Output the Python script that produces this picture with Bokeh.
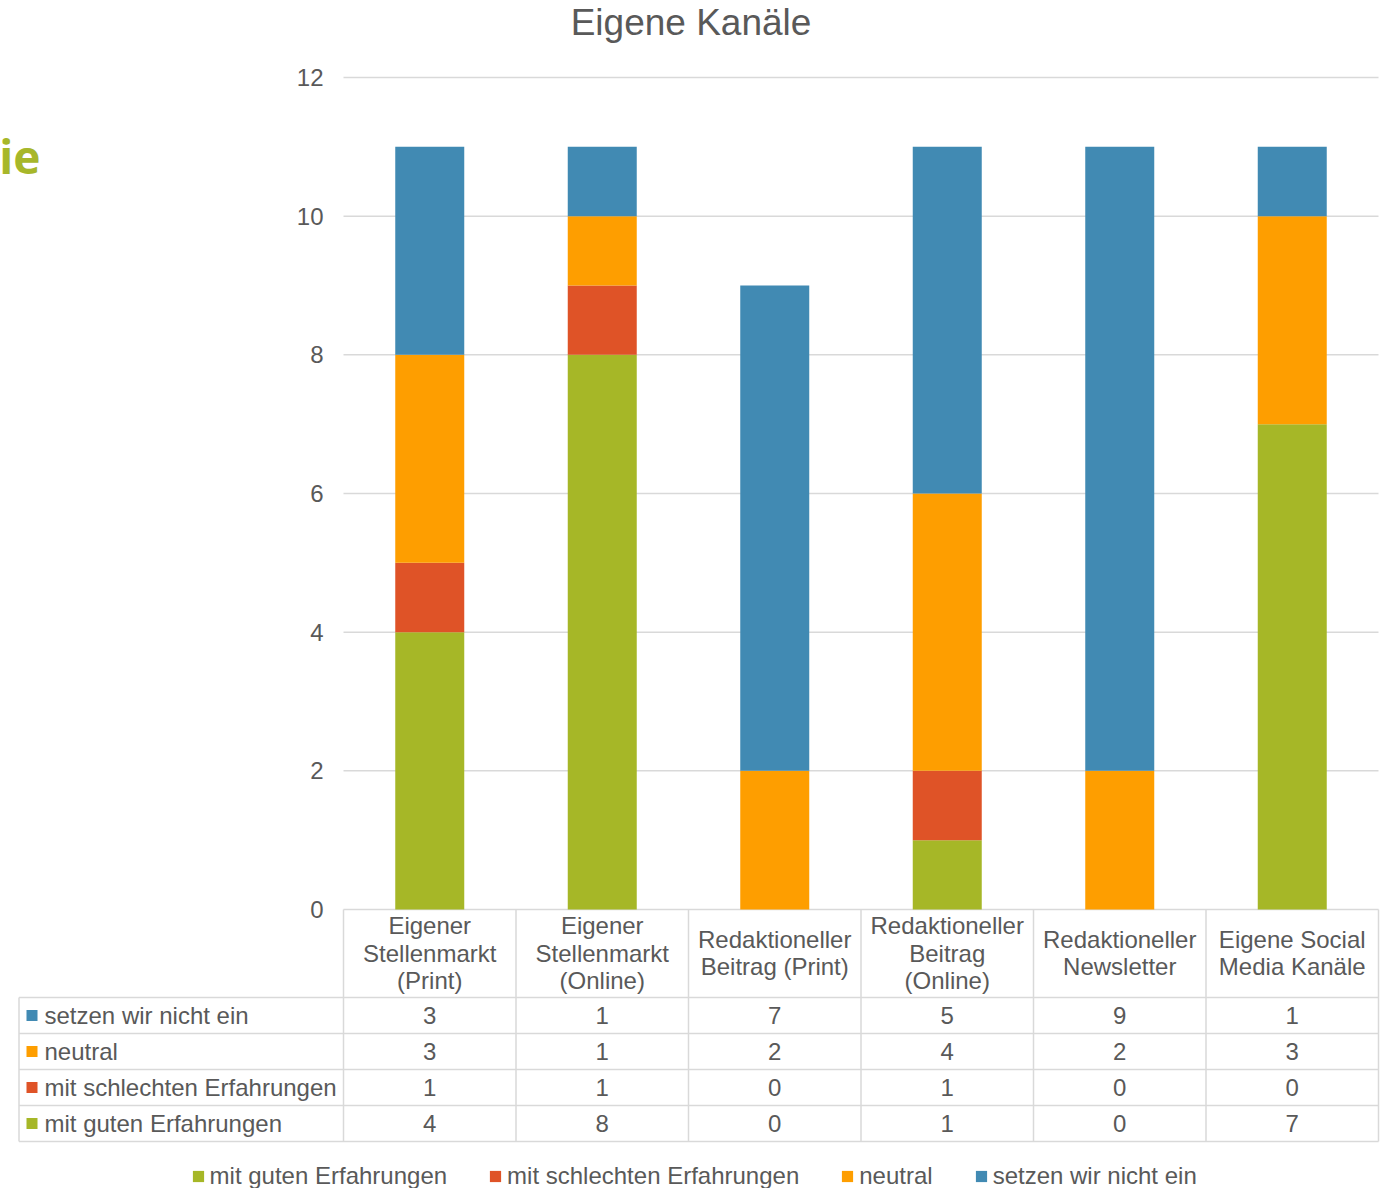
from bokeh.plotting import figure
from bokeh.models import ColumnDataSource, Range1d, Legend, LegendItem
from bokeh.core.properties import value
from bokeh.embed import file_html
from bokeh.resources import INLINE

# ---------------- data ----------------
categories = ["Eigener\nStellenmarkt\n(Print)", "Eigener\nStellenmarkt\n(Online)",
              "Redaktioneller\nBeitrag (Print)", "Redaktioneller\nBeitrag\n(Online)",
              "Redaktioneller\nNewsletter", "Eigene Social\nMedia Kanäle"]
gut = [4, 8, 0, 1, 0, 7]
schlecht = [1, 1, 0, 1, 0, 0]
neutral = [3, 1, 2, 4, 2, 3]
setzen = [3, 1, 7, 5, 9, 1]
series_names = ["mit guten Erfahrungen", "mit schlechten Erfahrungen", "neutral", "setzen wir nicht ein"]
series_colors = ["#A6B727", "#DF5327", "#FE9E00", "#418AB3"]
y_ticks = [0, 2, 4, 6, 8, 10, 12]
y_tick_labels = ["0", "2", "4", "6", "8", "10", "12"]
title_text = "Eigene Kanäle"

FONT = "Liberation Sans"
TXT = "#595959"
GRID = "#D9D9D9"

W, H = 1387, 1188
FL, FR, FT, FB = 343, 1378, 77, 909      # plot area in page pixels
n = len(categories)
CW = (FR - FL) / n                       # pixels per category
UNIT = (FB - FT) / y_ticks[-1]           # pixels per value unit


def px2x(px):
    return (px - FL) / CW


def py2y(py):
    return (FB - py) / UNIT


p = figure(width=W, height=H, x_range=Range1d(px2x(0), px2x(W)), y_range=Range1d(py2y(H), py2y(0)),
           output_backend="svg", toolbar_location=None, x_axis_type=None, y_axis_type=None,
           min_border=0, outline_line_color=None, background_fill_color="white",
           border_fill_color="white")
p.xgrid.visible = False
p.ygrid.visible = False

# ---------------- chart ----------------
xs = [i + 0.5 for i in range(n)]
src = ColumnDataSource(dict(x=xs, gut=gut, schlecht=schlecht, neutral=neutral, setzen=setzen))

# gridlines
p.segment(x0=[0] * len(y_ticks), x1=[n] * len(y_ticks), y0=y_ticks, y1=y_ticks,
          line_color=GRID, line_width=1.5)
# y tick labels
p.text(x=[px2x(323)] * len(y_ticks), y=y_ticks, text=y_tick_labels, text_font=value(FONT),
       text_font_size="24px", text_color=TXT, text_align="right", text_baseline="middle")

bars = p.vbar_stack(["gut", "schlecht", "neutral", "setzen"], x="x", width=0.4,
                    color=series_colors, line_color=None, source=src)

# title
p.text(x=[px2x(690.5)], y=[py2y(22)], text=[title_text], text_font=value(FONT),
       text_font_size="37px", text_color=TXT, text_align="center", text_baseline="alphabetic")
# stray heading fragment at the left edge
p.text(x=[px2x(40)], y=[py2y(155)], text=["ie"], text_font=value("Open Sans"),
       text_font_style="bold", text_font_size="46px", text_color="#A7B72A",
       text_align="right", text_baseline="alphabetic")

# ---------------- data table ----------------
HEAD = 88
ROW = 36
TL = px2x(18.5)
row_edges = [FB + HEAD + ROW * k for k in range(5)]
# horizontal lines
p.segment(x0=[TL] * len(row_edges), x1=[n] * len(row_edges),
          y0=[py2y(e) for e in row_edges], y1=[py2y(e) for e in row_edges],
          line_color=GRID, line_width=1.5)
# vertical lines
p.segment(x0=list(range(n + 1)) + [TL], x1=list(range(n + 1)) + [TL],
          y0=[0] * (n + 1) + [py2y(FB + HEAD)], y1=[py2y(row_edges[-1])] * (n + 2),
          line_color=GRID, line_width=1.5)

# header labels
hx, hy, ht = [], [], []
LH = 27.5
for i, cat in enumerate(categories):
    lines = cat.split("\n")
    top = FB + HEAD / 2 - 0.5 - LH * (len(lines) - 1) / 2
    for j, ln in enumerate(lines):
        hx.append(xs[i]); hy.append(py2y(top + LH * j)); ht.append(ln)
p.text(x=hx, y=hy, text=ht, text_font=value(FONT), text_font_size="24px", text_color=TXT,
       text_align="center", text_baseline="middle")

# rows, top to bottom = reversed series order
row_series = list(zip(series_names, series_colors, [gut, schlecht, neutral, setzen]))[::-1]
legend_renderers = {}
for r, (name, col, vals) in enumerate(row_series):
    yc = py2y(FB + HEAD + ROW * r + ROW / 2)
    p.text(x=xs, y=[yc] * n, text=[str(v) for v in vals], text_font=value(FONT),
           text_font_size="24px", text_color=TXT, text_align="center", text_baseline="middle")
    rr = p.rect(x=[px2x(31.5)], y=[yc], width=11, height=11, width_units="screen",
                height_units="screen", fill_color=col, line_color=None)
    legend_renderers[name] = rr
    p.text(x=[px2x(44)], y=[yc], text=[name], text_font=value(FONT), text_font_size="24px",
           text_color=TXT, text_align="left", text_baseline="middle")

# ---------------- legend ----------------
legend = Legend(items=[LegendItem(label=nm, renderers=[legend_renderers[nm]]) for nm in series_names],
                orientation="horizontal", location=(190.6, -2), glyph_width=14, glyph_height=14,
                label_standoff=5, spacing=41, padding=0, margin=0, border_line_color=None,
                background_fill_alpha=0, label_text_font=FONT, label_text_font_size="24px",
                label_text_color=TXT)
p.add_layout(legend)

open("out.html", "w").write(file_html(p, INLINE))
